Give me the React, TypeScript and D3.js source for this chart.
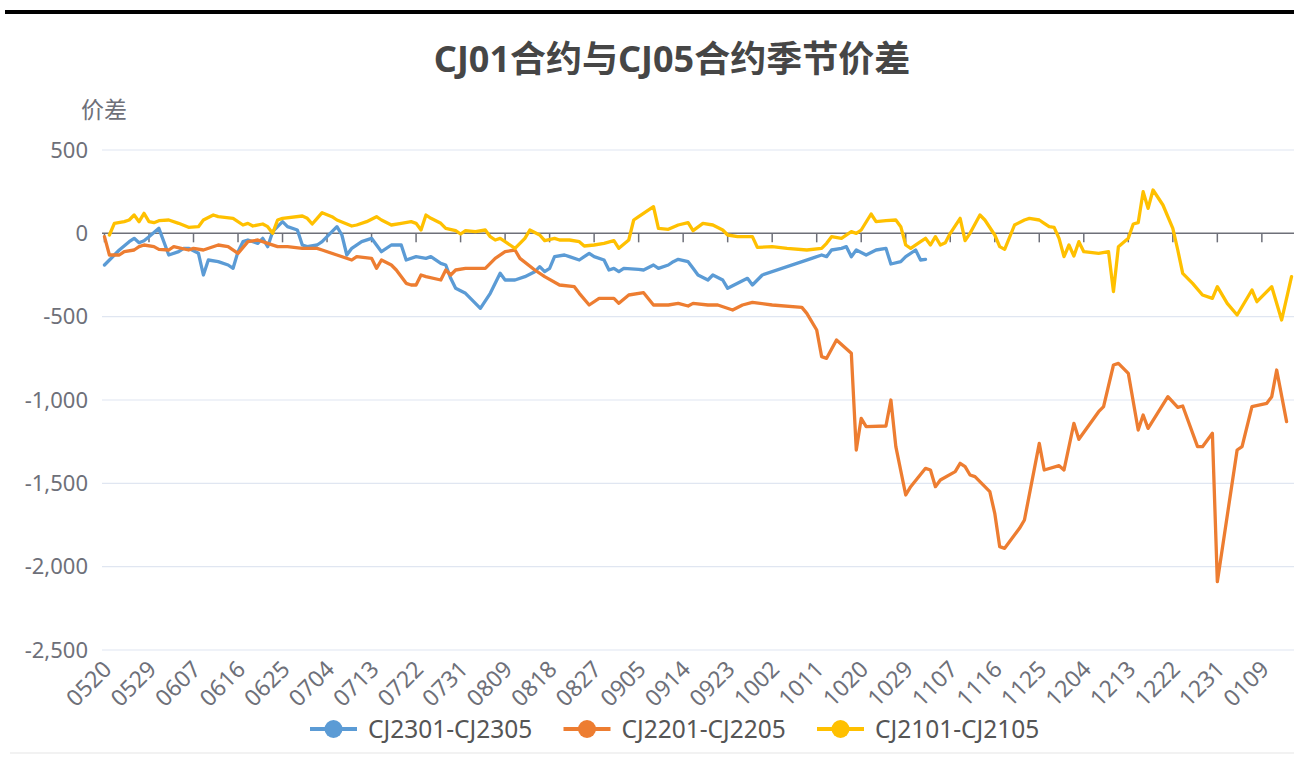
import React from "react";
import * as d3 from "d3";

const fmtMD = d3.timeFormat("%m%d");
const categories: string[] = d3
  .timeDay.range(new Date(2021, 4, 20), new Date(2022, 0, 16))
  .map((d) => fmtMD(d));

const tickLabels = [
  "0520", "0529", "0607", "0616", "0625", "0704", "0713", "0722", "0731",
  "0809", "0818", "0827", "0905", "0914", "0923", "1002", "1011", "1020",
  "1029", "1107", "1116", "1125", "1204", "1213", "1222", "1231", "0109",
];

const yTicks = [500, 0, -500, -1000, -1500, -2000, -2500];

const seriesNames = ["CJ2301-CJ2305", "CJ2201-CJ2205", "CJ2101-CJ2105"];
const seriesColors = ["#5B9BD5", "#ED7D31", "#FFC000"];

const cj2301: [string, number][] = [
  ["0520", -190], ["0522", -130], ["0523", -100], ["0525", -50], ["0526", -30],
  ["0527", -56], ["0528", -44], ["0529", -20], ["0531", 30], ["0602", -130],
  ["0604", -110], ["0605", -90], ["0606", -90], ["0608", -120], ["0609", -250],
  ["0610", -160], ["0612", -170], ["0614", -190], ["0615", -210], ["0616", -110],
  ["0617", -50], ["0618", -40], ["0620", -60], ["0621", -30], ["0622", -80],
  ["0623", 10], ["0625", 70], ["0626", 40], ["0628", 20], ["0629", -70],
  ["0630", -80], ["0702", -70], ["0703", -50], ["0704", -20], ["0706", 40],
  ["0707", -10], ["0708", -130], ["0709", -90], ["0711", -50], ["0713", -30],
  ["0714", -70], ["0715", -110], ["0717", -70], ["0719", -70], ["0720", -160],
  ["0722", -140], ["0724", -150], ["0725", -140], ["0727", -180], ["0728", -190],
  ["0729", -270], ["0730", -330], ["0801", -360], ["0803", -420], ["0804", -450],
  ["0806", -360], ["0808", -240], ["0809", -280], ["0811", -280], ["0813", -260],
  ["0815", -230], ["0816", -200], ["0817", -230], ["0818", -210], ["0819", -140],
  ["0821", -130], ["0822", -140], ["0824", -160], ["0825", -140], ["0826", -120],
  ["0827", -140], ["0829", -160], ["0830", -220], ["0831", -210], ["0901", -230],
  ["0902", -210], ["0905", -216], ["0906", -220], ["0908", -190], ["0909", -210],
  ["0911", -190], ["0912", -170], ["0913", -156], ["0915", -170], ["0916", -210],
  ["0917", -250], ["0919", -280], ["0920", -250], ["0922", -280], ["0923", -330],
  ["0925", -300], ["0927", -270], ["0928", -310], ["0930", -250], ["1010", -150],
  ["1012", -130], ["1013", -140], ["1014", -100], ["1016", -90], ["1017", -80],
  ["1018", -140], ["1019", -100], ["1021", -130], ["1023", -100], ["1025", -90],
  ["1026", -184], ["1028", -170], ["1029", -140], ["1031", -100], ["1101", -160],
  ["1102", -156],
];

const cj2201: [string, number][] = [
  ["0520", -20], ["0521", -130], ["0523", -130], ["0524", -110], ["0526", -100],
  ["0527", -80], ["0528", -70], ["0530", -80], ["0531", -96], ["0602", -100],
  ["0603", -80], ["0606", -100], ["0607", -90], ["0609", -100], ["0612", -70],
  ["0614", -80], ["0616", -120], ["0618", -50], ["0620", -40], ["0622", -60],
  ["0624", -80], ["0626", -80], ["0629", -90], ["0702", -90], ["0703", -100],
  ["0706", -130], ["0709", -160], ["0710", -140], ["0713", -150], ["0714", -210],
  ["0715", -160], ["0717", -190], ["0718", -220], ["0720", -300], ["0721", -310],
  ["0722", -310], ["0723", -250], ["0724", -260], ["0727", -280], ["0728", -220],
  ["0729", -250], ["0730", -220], ["0801", -210], ["0805", -210], ["0806", -180],
  ["0807", -150], ["0809", -110], ["0811", -100], ["0812", -150], ["0815", -220],
  ["0817", -260], ["0820", -310], ["0823", -320], ["0824", -360], ["0826", -430],
  ["0828", -390], ["0831", -390], ["0901", -420], ["0903", -370], ["0906", -356],
  ["0908", -430], ["0911", -430], ["0913", -420], ["0915", -436], ["0916", -420],
  ["0919", -430], ["0921", -430], ["0924", -460], ["0926", -430], ["0928", -414],
  ["1002", -430], ["1008", -444], ["1009", -480], ["1011", -580], ["1012", -740],
  ["1013", -750], ["1015", -640], ["1018", -720], ["1019", -1300], ["1020", -1110],
  ["1021", -1160], ["1025", -1156], ["1026", -1000], ["1027", -1280], ["1029", -1570],
  ["1030", -1520], ["1102", -1410], ["1103", -1420], ["1104", -1520], ["1105", -1480],
  ["1108", -1430], ["1109", -1380], ["1110", -1400], ["1111", -1450], ["1112", -1460],
  ["1115", -1550], ["1116", -1680], ["1117", -1880], ["1118", -1890], ["1121", -1770],
  ["1122", -1720], ["1125", -1260], ["1126", -1420], ["1129", -1394], ["1130", -1420],
  ["1202", -1140], ["1203", -1236], ["1207", -1070], ["1208", -1040], ["1210", -790],
  ["1211", -780], ["1213", -840], ["1215", -1180], ["1216", -1090], ["1217", -1170],
  ["1221", -980], ["1223", -1044], ["1224", -1036], ["1227", -1280], ["1228", -1280],
  ["1230", -1200], ["1231", -2090], ["0104", -1300], ["0105", -1280], ["0107", -1040],
  ["0110", -1020], ["0111", -980], ["0112", -820], ["0114", -1130],
];

const cj2101: [string, number][] = [
  ["0521", -10], ["0522", 60], ["0524", 70], ["0525", 80], ["0526", 110],
  ["0527", 70], ["0528", 120], ["0529", 70], ["0530", 64], ["0531", 76],
  ["0602", 80], ["0604", 60], ["0606", 36], ["0608", 40], ["0609", 80],
  ["0611", 110], ["0612", 100], ["0615", 90], ["0617", 50], ["0618", 60],
  ["0619", 44], ["0621", 56], ["0622", 40], ["0623", 0], ["0624", 80],
  ["0625", 90], ["0629", 104], ["0630", 90], ["0701", 56], ["0702", 90],
  ["0703", 124], ["0705", 100], ["0706", 80], ["0709", 44], ["0710", 50],
  ["0712", 70], ["0714", 100], ["0715", 80], ["0717", 50], ["0719", 60],
  ["0721", 70], ["0722", 60], ["0723", 20], ["0724", 110], ["0725", 90],
  ["0727", 60], ["0728", 30], ["0730", 16], ["0731", -4], ["0801", 16],
  ["0803", 10], ["0805", 20], ["0806", -20], ["0807", -40], ["0808", -30],
  ["0809", -50], ["0811", -90], ["0813", -30], ["0814", 20], ["0816", -10],
  ["0817", -44], ["0819", -30], ["0820", -40], ["0822", -40], ["0824", -50],
  ["0825", -76], ["0827", -70], ["0829", -60], ["0831", -44], ["0901", -90],
  ["0903", -40], ["0904", 80], ["0905", 100], ["0908", 160], ["0909", 30],
  ["0911", 24], ["0913", 50], ["0915", 64], ["0916", 16], ["0918", 60],
  ["0920", 50], ["0922", 20], ["0923", -10], ["0925", -20], ["0928", -20],
  ["0929", -84], ["1002", -80], ["1005", -90], ["1009", -100], ["1012", -90],
  ["1013", -60], ["1014", -20], ["1016", -30], ["1018", 10], ["1019", 0],
  ["1020", 20], ["1022", 116], ["1023", 70], ["1025", 76], ["1027", 80],
  ["1028", 40], ["1029", -70], ["1030", -90], ["1101", -50], ["1102", -30],
  ["1103", -70], ["1104", -20], ["1105", -70], ["1106", -56], ["1107", 0],
  ["1109", 90], ["1110", -44], ["1111", 0], ["1113", 110], ["1114", 80],
  ["1116", -10], ["1117", -80], ["1118", -96], ["1120", 50], ["1122", 80],
  ["1123", 90], ["1125", 80], ["1126", 60], ["1127", 40], ["1128", 36],
  ["1129", -30], ["1130", -140], ["1201", -70], ["1202", -136], ["1203", -50],
  ["1204", -110], ["1207", -120], ["1209", -110], ["1210", -350], ["1211", -80],
  ["1213", -30], ["1214", 56], ["1215", 64], ["1216", 250], ["1217", 150],
  ["1218", 260], ["1220", 170], ["1222", 30], ["1223", -100], ["1224", -240],
  ["1226", -300], ["1228", -370], ["1230", -390], ["1231", -320], ["0102", -420],
  ["0104", -490], ["0107", -340], ["0108", -410], ["0111", -320], ["0113", -520],
  ["0115", -260],
];

const allSeries = [cj2301, cj2201, cj2101];

const W = 1294;
const H = 767;
const FONT = "'Noto Sans', 'Noto Sans CJK SC', sans-serif";
const locale = d3.formatLocale({
  decimal: ".",
  thousands: ",",
  grouping: [3],
  currency: ["", ""],
  minus: "-",
});
const fmt = locale.format(",");

export default function App() {
  const left = 102;
  const right = 1294;
  const x = d3.scaleBand<string>().domain(categories).range([left, right]).padding(0);
  const cx = (c: string) => (x(c) as number) + x.bandwidth() / 2;
  const y = d3.scaleLinear().domain([-2500, 500]).range([650, 150]);
  const line = d3
    .line<[string, number]>()
    .x((d) => cx(d[0]))
    .y((d) => y(d[1]));

  const legendStart = 310;
  const legendStep = 253.5;
  const legendY = 729;

  return (
    <svg
      width={W}
      height={H}
      style={{ position: "absolute", left: 0, top: 0, background: "#fff" }}
      fontFamily={FONT}
    >
      <rect x={0} y={0} width={W} height={H} fill="#fff" />
      <rect x={5} y={10} width={W - 5} height={4} fill="#000" />
      <line x1={10} x2={W} y1={753} y2={753} stroke="#eeeeee" strokeWidth={1.5} />

      <text x={672} y={72} textAnchor="middle" fontSize={36} fontWeight="bold" fill="#464646">
        CJ01合约与CJ05合约季节价差
      </text>

      <text x={104} y={118} textAnchor="middle" fontSize={23} fill="#6E7079">
        价差
      </text>

      {yTicks.map((t) => (
        <g key={t}>
          {t !== 0 && (
            <line x1={left} x2={right} y1={y(t)} y2={y(t)} stroke="#E0E6F1" strokeWidth={1.2} />
          )}
          <text x={88} y={y(t)} dy="0.35em" textAnchor="end" fontSize={22} fill="#6E7079">
            {fmt(t)}
          </text>
        </g>
      ))}

      <line x1={left} x2={right} y1={y(0)} y2={y(0)} stroke="#6E7079" strokeWidth={1.5} />
      {tickLabels.map((t) => (
        <g key={t}>
          <line x1={cx(t)} x2={cx(t)} y1={y(0)} y2={y(0) + 9} stroke="#6E7079" strokeWidth={1.5} />
          <text
            transform={`translate(${cx(t) + 3},${665}) rotate(-45)`}
            textAnchor="end"
            dy="0.35em"
            fontSize={23}
            fill="#6E7079"
          >
            {t}
          </text>
        </g>
      ))}

      {allSeries.map((s, i) => (
        <path
          key={i}
          d={line(s) || ""}
          fill="none"
          stroke={seriesColors[i]}
          strokeWidth={3.3}
          strokeLinejoin="round"
          strokeLinecap="round"
        />
      ))}

      {seriesNames.map((n, i) => {
        const sx = legendStart + i * legendStep;
        return (
          <g key={n}>
            <line x1={sx} x2={sx + 47} y1={legendY} y2={legendY} stroke={seriesColors[i]} strokeWidth={4} />
            <circle cx={sx + 23.5} cy={legendY} r={9} fill={seriesColors[i]} />
            <text x={sx + 58} y={legendY} dy="0.35em" fontSize={24.5} fill="#555">
              {n}
            </text>
          </g>
        );
      })}
    </svg>
  );
}
